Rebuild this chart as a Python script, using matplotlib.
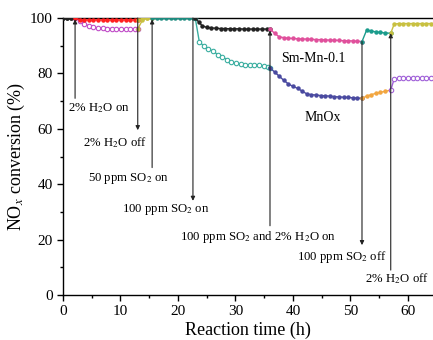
import matplotlib
matplotlib.use("Agg")
import matplotlib.pyplot as plt

plt.rcParams['font.family'] = ['Liberation Serif', 'DejaVu Serif']
plt.rcParams['mathtext.fontset'] = 'stix'

# ---- Sm-Mn-0.1 segments ----
sm_t1 = [0.0, 0.7, 1.4, 2.1]
sm_v1 = [100, 100, 100, 100]
sm_t2 = [2.1, 2.9, 3.7, 4.5, 5.3, 6.1, 6.9, 7.7, 8.5, 9.3, 10.1, 10.9, 11.7, 12.5, 13.0]
sm_v2 = [100, 99.4, 99.3, 99.3, 99.3, 99.3, 99.3, 99.3, 99.3, 99.3, 99.3, 99.3, 99.3, 99.3, 99.3]
sm_t3 = [13.0, 13.8, 14.6, 15.5]
sm_v3 = [99.3, 99.8, 100, 100]
sm_t4 = [15.5, 16.3, 17.1, 17.9, 18.7, 19.5, 20.3, 21.1, 21.9, 22.6, 23.0]
sm_v4 = [100, 100, 100, 100, 100, 100, 100, 100, 100, 100, 100]
sm_t5 = [23.0, 23.6, 24.2, 25.0, 25.8, 26.6, 27.4, 28.2, 29.0, 29.8, 30.6, 31.4, 32.2, 33.0, 33.8, 34.6, 35.4, 36.0]
sm_v5 = [100, 98.6, 97.2, 96.6, 96.4, 96.3, 96.2, 96.2, 96.1, 96.1, 96.1, 96.0, 96.0, 96.0, 96.0, 96.0, 96.0, 96.0]
sm_t6 = [36.0, 36.8, 37.6, 38.4, 39.2, 40.0, 40.8, 41.6, 42.4, 43.2, 44.0, 44.8, 45.6, 46.4, 47.2, 48.0, 48.8, 49.6, 50.4, 51.2, 52.0]
sm_v6 = [96.0, 94.5, 93.2, 92.9, 92.7, 92.6, 92.5, 92.4, 92.4, 92.3, 92.2, 92.2, 92.1, 92.0, 92.0, 91.9, 91.8, 91.8, 91.7, 91.6, 91.5]
sm_t7 = [52.0, 52.8, 53.6, 54.4, 55.2, 56.0, 57.0]
sm_v7 = [91.5, 95.6, 95.3, 95.0, 94.8, 94.6, 94.5]
sm_t8 = [57.0, 57.6, 58.4, 59.2, 60.0, 60.8, 61.6, 62.4, 63.2, 64.0, 64.8]
sm_v8 = [94.5, 97.8, 98.0, 98.0, 98.0, 98.0, 98.0, 98.0, 98.0, 98.0, 98.0]

# ---- MnOx segments ----
mn_t1 = [0.0, 0.7, 1.4, 2.1]
mn_v1 = [100, 100, 100, 100]
mn_t2 = [2.1, 2.9, 3.7, 4.5, 5.3, 6.1, 6.9, 7.7, 8.5, 9.3, 10.1, 10.9, 11.7, 12.5, 13.0]
mn_v2 = [100, 99.0, 97.9, 97.1, 96.6, 96.4, 96.3, 96.2, 96.2, 96.1, 96.1, 96.1, 96.0, 96.0, 96.0]
mn_t3 = [13.0, 13.8, 14.6, 15.5]
mn_v3 = [96.0, 99.2, 100, 100]
mn_t5 = [23.0, 23.7, 24.5, 25.3, 26.1, 26.9, 27.7, 28.5, 29.3, 30.1, 30.9, 31.7, 32.5, 33.3, 34.1, 34.9, 35.6, 36.0]
mn_v5 = [100, 91.5, 89.8, 88.8, 88.0, 86.8, 86.0, 85.0, 84.0, 83.6, 83.4, 83.2, 83.1, 83.0, 82.9, 82.6, 82.3, 82.0]
mn_t6 = [36.0, 36.8, 37.6, 38.4, 39.2, 40.0, 40.8, 41.6, 42.4, 43.2, 44.0, 44.8, 45.6, 46.4, 47.2, 48.0, 48.8, 49.6, 50.4, 51.2, 52.0]
mn_v6 = [82.0, 80.5, 79.0, 77.5, 76.2, 75.3, 74.6, 73.6, 72.6, 72.3, 72.2, 72.0, 71.9, 71.8, 71.6, 71.5, 71.4, 71.3, 71.2, 71.1, 71.0]
mn_t7 = [52.0, 52.8, 53.6, 54.4, 55.2, 56.0, 57.0]
mn_v7 = [71.0, 71.8, 72.3, 72.8, 73.2, 73.5, 74.0]
mn_t8 = [57.0, 57.6, 58.4, 59.2, 60.0, 60.8, 61.6, 62.4, 63.2, 64.0, 64.8]
mn_v8 = [74.0, 78.0, 78.2, 78.3, 78.3, 78.3, 78.3, 78.3, 78.3, 78.3, 78.3]

# ---- annotations ----
arrow_x = [2.1, 13.0, 15.5, 22.6, 36.0, 52.0, 57.0]
arrow_tail = [71, 100, 46, 100, 25, 91.5, 9]
arrow_head = [99.5, 59.5, 99.5, 34, 95.5, 18, 94.5]
note_text = ["2% H$_2$O on", "2% H$_2$O off", "50 ppm SO$_2$ on", "100 ppm SO$_2$ on",
             "100 ppm SO$_2$ and 2% H$_2$O on", "100 ppm SO$_2$ off", "2% H$_2$O off"]
note_x = [0.9, 3.5, 4.3, 10.3, 20.3, 40.7, 52.5]
note_y = [67.5, 55, 42, 30.7, 21, 13.7, 5.8]

fig = plt.figure(figsize=(4.33, 3.40), dpi=100)
ax = fig.add_axes([63/433, 45/340, 370/433, 277/340])

ms = 2.2
def filled(t, v, c):
    ax.plot(t, v, '-', color=c, lw=1.0, marker='o', ms=ms, mfc=c, mec=c, zorder=3)
def hollow(t, v, c):
    ax.plot(t, v, '-', color=c, lw=1.0, marker='o', ms=3.2, mfc='white', mec=c, mew=0.8, zorder=3)

# MnOx
filled(mn_t1, mn_v1, '#222222')
hollow(mn_t2, mn_v2, '#c04cc8')
filled(mn_t3, mn_v3, '#c8c040')
hollow(mn_t5, mn_v5, '#3aaea0')
filled(mn_t6, mn_v6, '#4a4aa0')
filled(mn_t7, mn_v7, '#f2a640')
hollow(mn_t8, mn_v8, '#a060d8')

# Sm-Mn-0.1
filled(sm_t1, sm_v1, '#222222')
filled(sm_t2, sm_v2, '#ff2020')
filled(sm_t3, sm_v3, '#c8c040')
filled(sm_t4, sm_v4, '#1e8c80')
filled(sm_t5, sm_v5, '#222222')
filled(sm_t6, sm_v6, '#e0509c')
filled(sm_t7, sm_v7, '#1a9c8c')
filled(sm_t8, sm_v8, '#c8c040')

for x, t0, h in zip(arrow_x, arrow_tail, arrow_head):
    ax.annotate('', xy=(x, h), xytext=(x, t0),
                arrowprops=dict(arrowstyle='-|>', lw=0.8, color='#222222',
                                mutation_scale=6, shrinkA=0, shrinkB=0), zorder=4)
for s, x, y in zip(note_text, note_x, note_y):
    ax.text(x, y, s, fontsize=9.2, ha='left', va='center')

ax.text(43.5, 85.5, "Sm-Mn-0.1", fontsize=10, ha='center', va='center')
ax.text(45.2, 64, "MnOx", fontsize=10, ha='center', va='center')

ax.set_xlim(0, 64.35)
ax.set_ylim(0, 100)
ax.set_xticks([0, 10, 20, 30, 40, 50, 60])
ax.set_xticks([5, 15, 25, 35, 45, 55], minor=True)
ax.set_yticks([0, 20, 40, 60, 80, 100])
ax.set_yticks([10, 30, 50, 70, 90], minor=True)
ax.tick_params(axis='both', which='major', direction='out', length=4, width=1, labelsize=11)
ax.tick_params(axis='both', which='minor', direction='out', length=2.5, width=1)
ax.spines['right'].set_visible(False)
for s in ['left', 'bottom', 'top']:
    ax.spines[s].set_linewidth(1.0)
ax.set_xlabel("Reaction time (h)", fontsize=13, labelpad=2)
ax.set_ylabel("NO$_x$ conversion (%)", fontsize=13, labelpad=2)

fig.savefig("out.png", dpi=100)
